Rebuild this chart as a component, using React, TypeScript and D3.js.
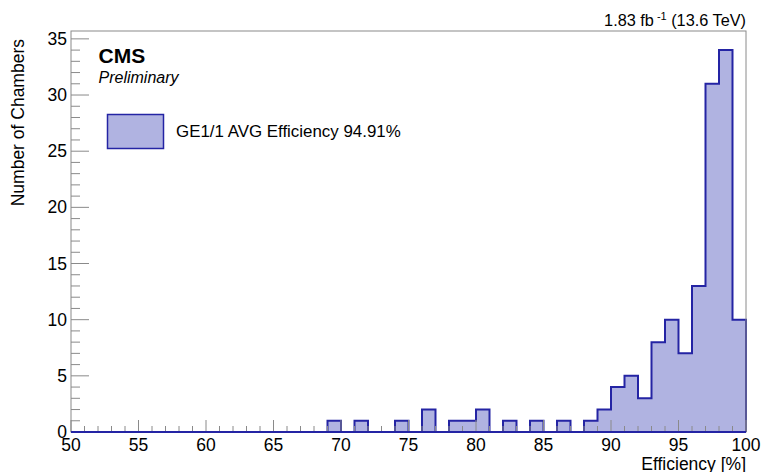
import React from "react";
import * as d3 from "d3";

const binEdgesStart = [69, 71, 74, 76, 78, 79, 80, 82, 84, 86, 88, 89, 90, 91, 92, 93, 94, 95, 96, 97, 98, 99];
const binCounts = [1, 1, 1, 2, 1, 1, 2, 1, 1, 1, 1, 2, 4, 5, 3, 8, 10, 7, 13, 31, 34, 10];
const xTicks = [50, 55, 60, 65, 70, 75, 80, 85, 90, 95, 100];
const yTicks = [0, 5, 10, 15, 20, 25, 30, 35];

const W = 764, H = 472;
const L = 71, R = 746, T = 31, B = 432;
const FONT = "'Liberation Sans', Arial, Helvetica, sans-serif";

export default function App() {
  const x = d3.scaleLinear().domain([50, 100]).range([L, R]);
  const yMax = 34 * 1.05;
  const y = d3.scaleLinear().domain([0, yMax]).range([B, T]);

  const counts: number[] = new Array(50).fill(0);
  binEdgesStart.forEach((s, i) => { counts[s - 50] = binCounts[i]; });

  let d = `M${x(50)},${y(0)}`;
  for (let i = 0; i < 50; i++) {
    const lo = 50 + i, hi = lo + 1;
    d += `L${x(lo)},${y(counts[i])}L${x(hi)},${y(counts[i])}`;
  }
  d += `L${x(100)},${y(0)}`;
  const fillPath = d + "Z";

  const minorX = d3.range(50, 101, 1);
  const minorY = d3.range(0, 36, 1);

  const fillColor = "#b0b3e1";
  const lineColor = "#2424a4";
  const axisColor = "#8a8a8a";

  return (
    <svg width={W} height={H} style={{ position: "absolute", left: 0, top: 0 }} fontFamily={FONT}>
      <rect x={0} y={0} width={W} height={H} fill="#fff" />
      <path d={fillPath} fill={fillColor} stroke="none" />
      <path d={d} fill="none" stroke={lineColor} strokeWidth={2} />
      <rect x={L} y={T} width={R - L} height={B - T} fill="none" stroke={axisColor} strokeWidth={1} />
      {minorX.map((v) => (
        <line key={"xt" + v} x1={x(v)} x2={x(v)} y1={B} y2={B - (v % 5 === 0 ? 12 : 6)} stroke={axisColor} strokeWidth={1} />
      ))}
      {minorY.map((v) => (
        <line key={"yt" + v} x1={L} x2={L + (v % 5 === 0 ? 18 : 9)} y1={y(v)} y2={y(v)} stroke={axisColor} strokeWidth={1} />
      ))}
      <line x1={x(50)} x2={x(100)} y1={y(0)} y2={y(0)} stroke={lineColor} strokeWidth={2} />
      {xTicks.map((v) => (
        <text key={"xl" + v} x={x(v)} y={451} fontSize={17.5} textAnchor="middle" fill="#000">{v}</text>
      ))}
      {yTicks.map((v) => (
        <text key={"yl" + v} x={67} y={y(v) + 6} fontSize={17.5} textAnchor="end" fill="#000">{v}</text>
      ))}
      <text x={746} y={470} fontSize={17.5} textAnchor="end" fill="#000">Efficiency [%]</text>
      <text transform={`translate(24,39) rotate(-90)`} fontSize={17.5} textAnchor="end" fill="#000">Number of Chambers</text>
      <text x={746} y={26} fontSize={16.3} textAnchor="end" fill="#000">
        1.83 fb<tspan dx={3} dy={-6} fontSize={11}>-1</tspan><tspan dy={6}> (13.6 TeV)</tspan>
      </text>
      <text x={98.5} y={63} fontSize={21} fontWeight="bold" fill="#000">CMS</text>
      <text x={98.5} y={83} fontSize={16} fontStyle="italic" fill="#000">Preliminary</text>
      <rect x={107.5} y={114.5} width={56} height={34} fill={fillColor} stroke={lineColor} strokeWidth={1.5} />
      <text x={176} y={137} fontSize={16.9} fill="#000">GE1/1 AVG Efficiency 94.91%</text>
    </svg>
  );
}
